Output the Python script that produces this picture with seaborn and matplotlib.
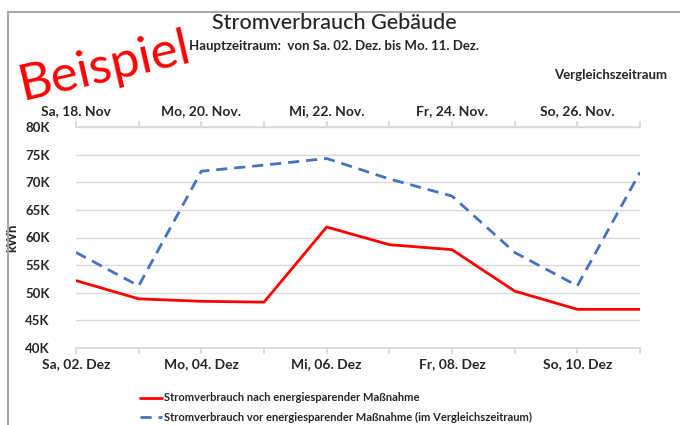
import matplotlib
matplotlib.use("Agg")
import matplotlib.pyplot as plt
import seaborn as sns
import pandas as pd
from matplotlib.lines import Line2D
from matplotlib.ticker import FuncFormatter

# ---- data ----
days_main = ["Sa, 02. Dez", "So, 03. Dez", "Mo, 04. Dez", "Di, 05. Dez", "Mi, 06. Dez",
             "Do, 07. Dez", "Fr, 08. Dez", "Sa, 09. Dez", "So, 10. Dez", "Mo, 11. Dez"]
days_cmp = ["Sa, 18. Nov", "So, 19. Nov.", "Mo, 20. Nov.", "Di, 21. Nov.", "Mi, 22. Nov.",
            "Do, 23. Nov.", "Fr, 24. Nov.", "Sa, 25. Nov.", "So, 26. Nov.", "Mo, 27. Nov."]
after_values = [52200, 48900, 48450, 48300, 61900, 58700, 57800, 50300, 47000, 47000]
before_values = [57300, 51250, 72000, 73100, 74300, 70600, 67500, 57300, 51250, 71800]
series_after = "Stromverbrauch nach energiesparender Maßnahme"
series_before = "Stromverbrauch vor energiesparender Maßnahme (im Vergleichszeitraum)"

df = pd.DataFrame({
    "idx": list(range(len(days_main))) * 2,
    "kWh": after_values + before_values,
    "Serie": [series_after] * len(after_values) + [series_before] * len(before_values),
})

sns.set_theme(style="white")
plt.rcParams["font.family"] = ["Lato", "DejaVu Sans"]

fig = plt.figure(figsize=(6.8, 4.25), dpi=100)
ax = fig.add_axes([76 / 680, 1 - 348 / 425, (640 - 76) / 680, (348 - 127) / 425])

sns.lineplot(data=df, x="idx", y="kWh", hue="Serie", style="Serie",
             palette={series_after: "#FF0000", series_before: "#4472C4"},
             dashes={series_after: "", series_before: (4, 2.5)},
             linewidth=2, ax=ax, legend=True)

n = len(days_main)
ax.set_xlim(0, n - 1)
ax.set_ylim(40000, 80000)
ax.set_yticks(range(40000, 80001, 5000))
ax.yaxis.set_major_formatter(FuncFormatter(lambda v, p: f"{v/1000:.0f}K"))
ax.grid(axis="y", color="#d9d9d9", linewidth=1)
ax.set_axisbelow(True)
for s in ax.spines.values():
    s.set_visible(False)
ax.spines["bottom"].set_visible(True)
ax.spines["bottom"].set_color("#d9d9d9")

ax.set_xticks(range(n))
ax.set_xticklabels([d if i % 2 == 0 else "" for i, d in enumerate(days_main)])
ax.tick_params(axis="x", bottom=True, length=4, color="#d9d9d9", labelsize=10, pad=3)
ax.tick_params(axis="y", left=False, labelsize=9.5, pad=13)
for lbl in ax.get_xticklabels() + ax.get_yticklabels():
    lbl.set_fontweight("bold")
ax.set_xlabel("")
ax.set_ylabel("kWh", fontsize=9.5, fontweight="bold")
ax.yaxis.set_label_coords(-58 / 564, 0.5)

# top (comparison period) axis
ax2 = ax.twiny()
ax2.set_xlim(ax.get_xlim())
ax2.set_xticks(range(n))
ax2.set_xticklabels([d if i % 2 == 0 else "" for i, d in enumerate(days_cmp)])
ax2.tick_params(axis="x", top=True, length=4, color="#d9d9d9", labelsize=10, pad=3)
for lbl in ax2.get_xticklabels():
    lbl.set_fontweight("bold")
for s in ax2.spines.values():
    s.set_visible(False)
ax2.spines["top"].set_visible(True)
ax2.spines["top"].set_color("#d9d9d9")

# legend
handles, labels = ax.get_legend_handles_labels()
ax.get_legend().remove()
leg = fig.legend(handles, labels, loc="upper left", bbox_to_anchor=(136 / 680, 1 - 388 / 425),
                 frameon=False, fontsize=8, handlelength=1.9, handletextpad=0.2,
                 labelspacing=0.75, borderaxespad=0)
for t in leg.get_texts():
    t.set_fontweight("bold")

# titles
fig.text(334 / 680, 1 - 23 / 425, "Stromverbrauch Gebäude", ha="center", va="center",
         fontsize=15.5, fontweight="medium")
fig.text(334 / 680, 1 - 46 / 425, "Hauptzeitraum:  von Sa. 02. Dez. bis Mo. 11. Dez.",
         ha="center", va="center", fontsize=9.5, fontweight="bold")
fig.text(667 / 680, 1 - 75 / 425, "Vergleichszeitraum", ha="right", va="center",
         fontsize=9.5, fontweight="bold")

# watermark
fig.text(22 / 680, 1 - 100 / 425, "Beispiel", rotation=13, rotation_mode="anchor",
         ha="left", va="baseline", color="#FF0000", fontsize=37)

# frame
fig.add_artist(Line2D([8 / 680, 8 / 680], [0, 1 - 12 / 425], transform=fig.transFigure,
                      color="#a6a6a6", linewidth=1.5))
fig.add_artist(Line2D([8 / 680, 1], [1 - 12 / 425, 1 - 12 / 425], transform=fig.transFigure,
                      color="#a6a6a6", linewidth=1.5))

fig.savefig("out.png", dpi=100)
